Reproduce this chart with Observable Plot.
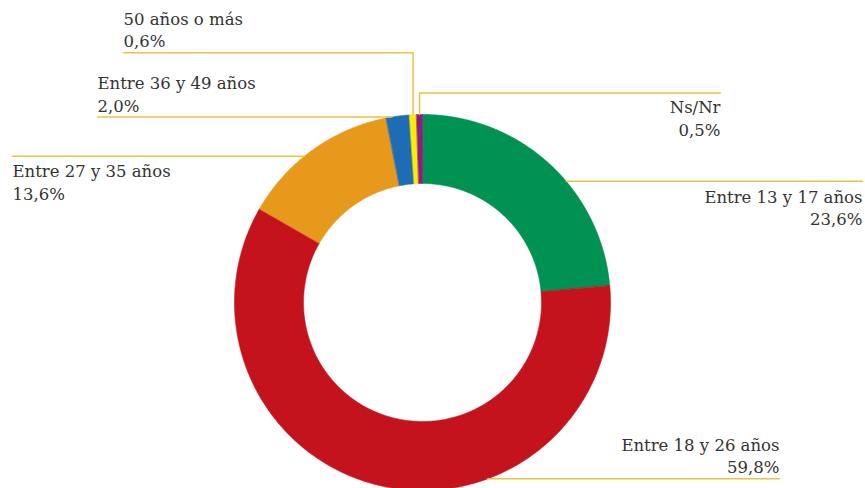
<!DOCTYPE html>
<html>
<head>
<meta charset="utf-8">
<script src="https://cdn.jsdelivr.net/npm/d3@7"></script>
<script src="https://cdn.jsdelivr.net/npm/@observablehq/plot@0.6"></script>
<style>
  html, body { margin: 0; padding: 0; background: #fff; }
  #chart svg { display: block; background: #fff; }
</style>
</head>
<body>
<div id="chart"></div>
<script>
// ---- Data ----
const categories = ["Entre 13 y 17 años", "Entre 18 y 26 años", "Entre 27 y 35 años", "Entre 36 y 49 años", "50 años o más", "Ns/Nr"];
const values = [23.6, 59.8, 13.6, 2.0, 0.6, 0.5];
const colors = ["#009252", "#c4131c", "#e7991c", "#1e6cb5", "#ffed00", "#8c1c7e"];

// ---- Layout (pixel space) ----
const W = 865, H = 488;
const CX = 422, CY = 302, R_OUT = 188, R_IN = 119;
const leaderColor = "#e9c440";
// kind: "h" = horizontal leader touching the arc at height y; "v" = vertical from slice middle up to y, then horizontal to `end`
const layout = [
  {kind: "h", side: "right", y: 180.7, end: 862, anchor: "end", baseline: 224.7},
  {kind: "h", side: "right", y: 478.3, end: 779, anchor: "end", baseline: 472.7},
  {kind: "h", side: "left",  y: 155.7, end: 12,  anchor: "start", baseline: 199.3},
  {kind: "h", side: "left",  y: 116.5, end: 97,  anchor: "start", baseline: 111},
  {kind: "v", y: 52.3, end: 123, anchor: "start", baseline: 46.7},
  {kind: "v", y: 92.5, end: 720, anchor: "end", baseline: 135}
];

const fmt = v => v.toFixed(1).replace(".", ",") + "%";

// ---- Build slice polygons from values ----
const arcs = d3.pie().sort(null).value(d => d)(values);
const slicePts = [];
arcs.forEach((a, i) => {
  const n = Math.max(2, Math.ceil((a.endAngle - a.startAngle) / (Math.PI / 360)));
  const outer = d3.range(n + 1).map(k => a.startAngle + (a.endAngle - a.startAngle) * k / n);
  for (const t of outer) slicePts.push({key: categories[i], x: CX + R_OUT * Math.sin(t), y: CY - R_OUT * Math.cos(t)});
  for (const t of outer.slice().reverse()) slicePts.push({key: categories[i], x: CX + R_IN * Math.sin(t), y: CY - R_IN * Math.cos(t)});
});

// ---- Leader lines ----
const leaderPts = [];
arcs.forEach((a, i) => {
  const L = layout[i];
  const key = categories[i];
  if (L.kind === "h") {
    const dy = L.y - CY;
    const dx = Math.sqrt(Math.max(0, R_OUT * R_OUT - dy * dy));
    const x0 = L.side === "right" ? CX + dx : CX - dx;
    leaderPts.push({key, x: x0, y: L.y}, {key, x: L.end, y: L.y});
  } else {
    const mid = (a.startAngle + a.endAngle) / 2;
    const x0 = CX + R_OUT * Math.sin(mid);
    const y0 = CY - R_OUT * Math.cos(mid);
    leaderPts.push({key, x: x0, y: y0}, {key, x: x0, y: L.y}, {key, x: L.end, y: L.y});
  }
});

// ---- Labels ----
const labels = categories.map((c, i) => ({
  text: c + "\n" + fmt(values[i]),
  x: layout[i].end,
  y: layout[i].baseline,
  anchor: layout[i].anchor
}));

const textOpts = {
  x: "x", y: "y", text: "text",
  fontFamily: "DejaVu Serif", fontSize: 16.5, lineHeight: 1.36,
  fill: "#333333", lineAnchor: "bottom"
};

const chart = Plot.plot({
  width: W, height: H,
  margin: 0,
  x: {type: "linear", domain: [0, W], range: [0, W], axis: null},
  y: {type: "linear", domain: [0, H], range: [0, H], axis: null},
  color: {domain: categories, range: colors},
  marks: [
    Plot.line(slicePts, {x: "x", y: "y", z: "key", fill: "key", stroke: "key", strokeWidth: 0.6, curve: "linear-closed"}),
    Plot.line(leaderPts, {x: "x", y: "y", z: "key", stroke: leaderColor, strokeWidth: 1.5, curve: "linear"}),
    Plot.text(labels.filter(d => d.anchor === "start"), {...textOpts, textAnchor: "start"}),
    Plot.text(labels.filter(d => d.anchor === "end"), {...textOpts, textAnchor: "end"})
  ]
});
document.getElementById("chart").appendChild(chart);
</script>
</body>
</html>
